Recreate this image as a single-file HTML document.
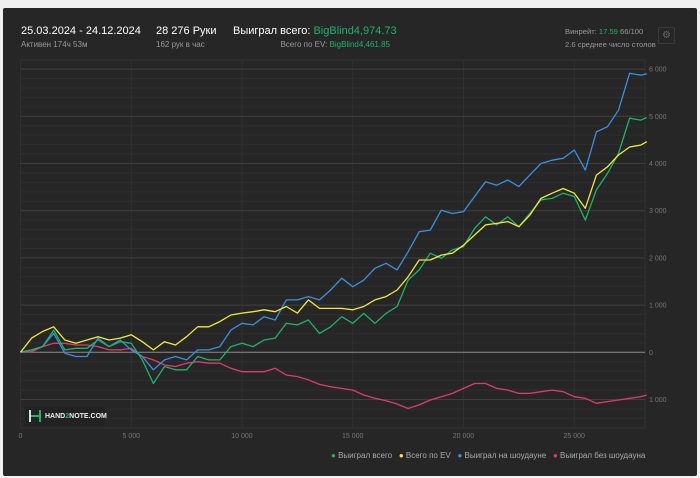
<!DOCTYPE html>
<html><head><meta charset="utf-8"><style>
body{margin:0;background:#f0f0f0;width:700px;height:478px;overflow:hidden;font-family:"Liberation Sans","Noto Sans CJK SC",sans-serif}
#panel{position:absolute;left:3px;top:8px;width:694px;height:468px;background:#262626;border-radius:2px}
.t{position:absolute;white-space:nowrap}
</style></head><body>
<div id="panel"></div>
<div class="t" style="left:21px;top:25px;font-size:11px;color:#fff">25.03.2024 - 24.12.2024</div>
<div class="t" style="left:21px;top:40px;font-size:8px;color:#999">Активен 174ч 53м</div>
<div class="t" style="left:156px;top:25px;font-size:11px;color:#fff">28 276 Руки</div>
<div class="t" style="left:156px;top:40px;font-size:8px;color:#999">162 рук в час</div>
<div class="t" style="left:233px;top:25px;font-size:11px;color:#fff">Выиграл всего: <span style="color:#1db36b">BigBlind4,974.73</span></div>
<div class="t" style="right:310px;top:40px;font-size:8px;color:#999">Всего по EV: <span style="color:#1db36b">BigBlind4,461.85</span></div>
<div class="t" style="left:565px;top:27px;font-size:7.6px;color:#999">Винрейт: <span style="color:#1db36b">17.59</span> 66/100</div>
<div class="t" style="left:565px;top:40px;font-size:7.6px;color:#999">2.6 среднее число столов</div>
<div class="t" style="left:658px;top:27px;width:15px;height:15px;border:1px solid #3a3a3a;border-radius:2px;color:#666;font-size:10px;text-align:center;line-height:15px">⚙</div>
<svg id="chart" width="700" height="478" style="position:absolute;left:0;top:0"></svg>
<div class="t" style="left:25px;top:407px;width:80px;height:19px;background:#222;font-size:7px;color:#eee;font-weight:bold;line-height:19px;padding-left:0">
<span style="display:inline-block;width:12px;height:12px;margin:0 4px 0 4px;vertical-align:middle;border-left:2px solid #ddd;border-right:2px solid #1db36b;box-sizing:border-box;position:relative"><span style="position:absolute;left:0;top:5px;width:8px;height:2px;background:#1db36b"></span></span>HAND<span style="color:#1db36b">2</span>NOTE.COM</div>
<div class="t" style="left:331px;top:451px;font-size:8px;color:#aaa">
<span><span style="color:#1db36b">●</span> Выиграл всего</span>&nbsp;&nbsp;
<span><span style="color:#f0ea3a">●</span> Всего по EV</span>&nbsp;&nbsp;
<span><span style="color:#3a8fe0">●</span> Выиграл на шоудауне</span>&nbsp;&nbsp;
<span><span style="color:#e03a6b">●</span> Выиграл без шоудауна</span></div>
<script>
const hands=[];for(let h=0;h<=28000;h+=500)hands.push(h);hands.push(28276);
const evWon=[0,300,440,540,260,190,260,330,260,300,370,225,50,225,155,330,540,540,650,790,830,860,900,860,970,830,1110,930,930,930,900,970,1110,1180,1320,1600,1955,1955,2060,2100,2270,2485,2700,2730,2770,2660,2910,3260,3370,3470,3370,3050,3755,3930,4180,4350,4390,4462];
const totalWon=[0,50,120,470,50,85,85,260,120,225,190,-160,-660,-300,-370,-370,-90,-160,-160,120,190,120,260,300,615,580,685,400,540,755,615,825,615,825,970,1530,1745,2100,1990,2170,2240,2625,2870,2700,2870,2660,2945,3230,3260,3370,3300,2800,3440,3790,4215,4960,4920,4975];
const showdownWon=[0,50,120,400,-20,-90,-90,300,120,260,50,-90,-370,-160,-90,-160,50,50,120,470,615,580,755,685,1110,1110,1180,1110,1320,1570,1390,1530,1780,1885,1745,2130,2555,2590,3010,2940,2980,3300,3615,3540,3650,3510,3760,4000,4070,4110,4285,3860,4670,4780,5130,5910,5870,5900];
const noShowdownWon=[0,15,120,190,190,155,155,120,50,50,85,-90,-160,-270,-300,-230,-200,-230,-230,-340,-410,-410,-410,-340,-480,-515,-585,-680,-730,-765,-800,-905,-975,-1025,-1095,-1190,-1115,-1010,-940,-870,-765,-660,-660,-765,-800,-870,-870,-835,-800,-835,-940,-975,-1080,-1045,-1010,-975,-940,-905];
const xTicks=[0,5000,10000,15000,20000,25000];
const xTickLabels=["0","5 000","10 000","15 000","20 000","25 000"];
const yTicks=[-1000,0,1000,2000,3000,4000,5000,6000];
const yTickLabels=["1 000","0","1 000","2 000","3 000","4 000","5 000","6 000"];
const NS="http://www.w3.org/2000/svg",svg=document.getElementById('chart');
const X=h=>20.5+h*0.02215, Y=v=>352.3-v*0.0472;
const L=21,R=645,T=60,B=428;
function mk(t,a){const e=document.createElementNS(NS,t);for(const k in a)e.setAttribute(k,a[k]);svg.appendChild(e);return e;}
for(let v=-1600;v<=6200;v+=200){if(v%1000===0)continue;const y=Y(v);if(y<T||y>B)continue;
const g=mk('line',{x1:L,x2:R,y1:y,y2:y,stroke:'#2d2d2d','stroke-width':1});

}
mk('line',{x1:L,x2:R,y1:T,y2:T,stroke:'#333'});
mk('line',{x1:L,x2:R,y1:B,y2:B,stroke:'#333'});
xTicks.forEach((h,i)=>{const x=X(h);
const g=mk('line',{x1:x,x2:x,y1:T,y2:B,stroke:'#303030'});


const t=mk('text',{x:x,y:438,fill:'#777','font-size':7,'text-anchor':'middle','font-family':'Liberation Sans'});
t.textContent=xTickLabels[i];

});
mk('line',{x1:R,x2:R,y1:T,y2:B,stroke:'#303030'});
yTicks.forEach((v,i)=>{const y=Y(v);
const g=mk('line',{x1:L,x2:R,y1:y,y2:y,stroke:v===0?'#8a8a8a':'#404040'});


const t=mk('text',{x:649,y:y+2.5,fill:'#777','font-size':7,'font-family':'Liberation Sans'});
t.textContent=yTickLabels[i];

});
const series=[[noShowdownWon,'#e03a6b','no-showdown-line'],[showdownWon,'#3a8fe0','showdown-line'],[totalWon,'#1db36b','total-won-line'],[evWon,'#f0ea3a','ev-line']];
series.forEach(s=>{const d=s[0].map((v,i)=>(i?'L':'M')+X(hands[i]).toFixed(1)+','+Y(v).toFixed(1)).join('');
const p=mk('path',{d:d,fill:'none',stroke:s[1],'stroke-width':1.3,'stroke-linejoin':'round'});

});
</script>
</body></html>
